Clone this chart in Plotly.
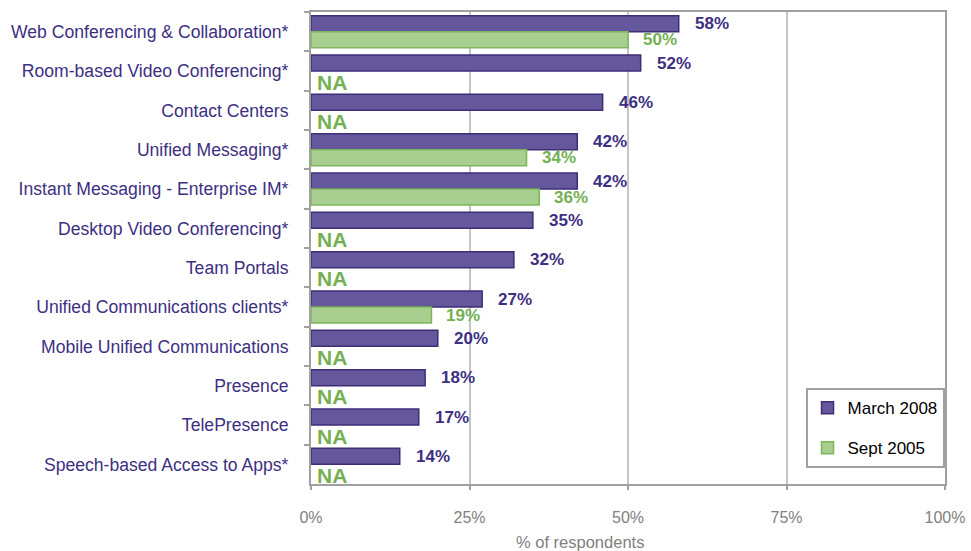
import plotly.graph_objects as go

categories = [
    "Web Conferencing & Collaboration*",
    "Room-based Video Conferencing*",
    "Contact Centers",
    "Unified Messaging*",
    "Instant Messaging - Enterprise IM*",
    "Desktop Video Conferencing*",
    "Team Portals",
    "Unified Communications clients*",
    "Mobile Unified Communications",
    "Presence",
    "TelePresence",
    "Speech-based Access to Apps*",
]
march_2008 = [58, 52, 46, 42, 42, 35, 32, 27, 20, 18, 17, 14]
sept_2005 = [50, None, None, 34, 36, None, None, 19, None, None, None, None]
x_ticks = [0, 25, 50, 75, 100]
x_tick_labels = ["0%", "25%", "50%", "75%", "100%"]

PURPLE_FILL = "#65579c"
PURPLE_EDGE = "#3f2e77"
PURPLE_TEXT = "#3d2f82"
GREEN_FILL = "#a8cf8f"
GREEN_EDGE = "#7db55c"
GREEN_TEXT = "#74b052"
GREY = "#a0a0a0"
FONT = "Liberation Sans, Arial, sans-serif"

fig = go.Figure()
fig.add_trace(go.Bar(
    y=categories, x=march_2008, orientation="h", name="March 2008",
    marker=dict(color=PURPLE_FILL, line=dict(color=PURPLE_EDGE, width=1.5)),
    legendgroup="a", hoverinfo="x+y",
))
fig.add_trace(go.Bar(
    y=categories, x=sept_2005, orientation="h", name="Sept 2005",
    marker=dict(color=GREEN_FILL, line=dict(color=GREEN_EDGE, width=1.5)),
    legendgroup="b", hoverinfo="x+y",
))

annotations = []
for cat, v in zip(categories, march_2008):
    annotations.append(dict(
        x=v, y=cat, xref="x", yref="y", text=f"<b>{v}%</b>", showarrow=False,
        xanchor="left", yanchor="middle", xshift=14, yshift=8,
        font=dict(family=FONT, size=17, color=PURPLE_TEXT),
    ))
for cat, v in zip(categories, sept_2005):
    if v is None:
        annotations.append(dict(
            x=0, y=cat, xref="x", yref="y", text="<b>NA</b>", showarrow=False,
            xanchor="left", yanchor="middle", xshift=4, yshift=-11,
            font=dict(family=FONT, size=21, color=GREEN_TEXT),
        ))
    else:
        annotations.append(dict(
            x=v, y=cat, xref="x", yref="y", text=f"<b>{v}%</b>", showarrow=False,
            xanchor="left", yanchor="middle", xshift=13, yshift=-8,
            font=dict(family=FONT, size=17, color=GREEN_TEXT),
        ))
annotations.append(dict(
    x=0.424, y=-0.123, xref="paper", yref="paper", text="% of respondents",
    showarrow=False, xanchor="center", yanchor="middle",
    font=dict(family=FONT, size=16.5, color="#808080"),
))

fig.update_layout(
    width=971, height=551, autosize=False,
    margin=dict(l=311, r=26, t=12, b=67, autoexpand=False),
    paper_bgcolor="white", plot_bgcolor="white",
    barmode="group", bargap=0.186, bargroupgap=0,
    font=dict(family=FONT),
    showlegend=True,
    legend=dict(
        x=0.78, y=0.203, xanchor="left", yanchor="top",
        bordercolor=GREY, borderwidth=2, bgcolor="white",
        font=dict(family=FONT, size=17, color="#000000"),
        tracegroupgap=15, itemwidth=30,
    ),
    annotations=annotations,
)
fig.update_xaxes(
    range=[0, 100], tickvals=x_ticks, ticktext=x_tick_labels,
    showgrid=True, gridcolor="#c4c4c4", gridwidth=2,
    showline=True, linecolor=GREY, linewidth=2, mirror=True,
    ticks="outside", ticklen=4, tickcolor=GREY, tickwidth=2,
    ticklabelstandoff=14, automargin=False,
    tickfont=dict(family=FONT, size=16, color="#808080"),
    zeroline=False, fixedrange=True,
)
fig.update_yaxes(
    type="category", categoryorder="array", categoryarray=categories,
    autorange="reversed", automargin=False,
    showgrid=False, showline=True, linecolor=GREY, linewidth=2, mirror=True,
    ticks="outside", tickson="boundaries", ticklen=5, tickcolor=GREY, tickwidth=2,
    ticklabelstandoff=17,
    tickfont=dict(family=FONT, size=17.6, color=PURPLE_TEXT),
    fixedrange=True,
)

fig.write_html(
    "out.html",
    config={"displayModeBar": False},
    post_script="document.body.style.margin='0';document.body.style.overflow='hidden';",
)
